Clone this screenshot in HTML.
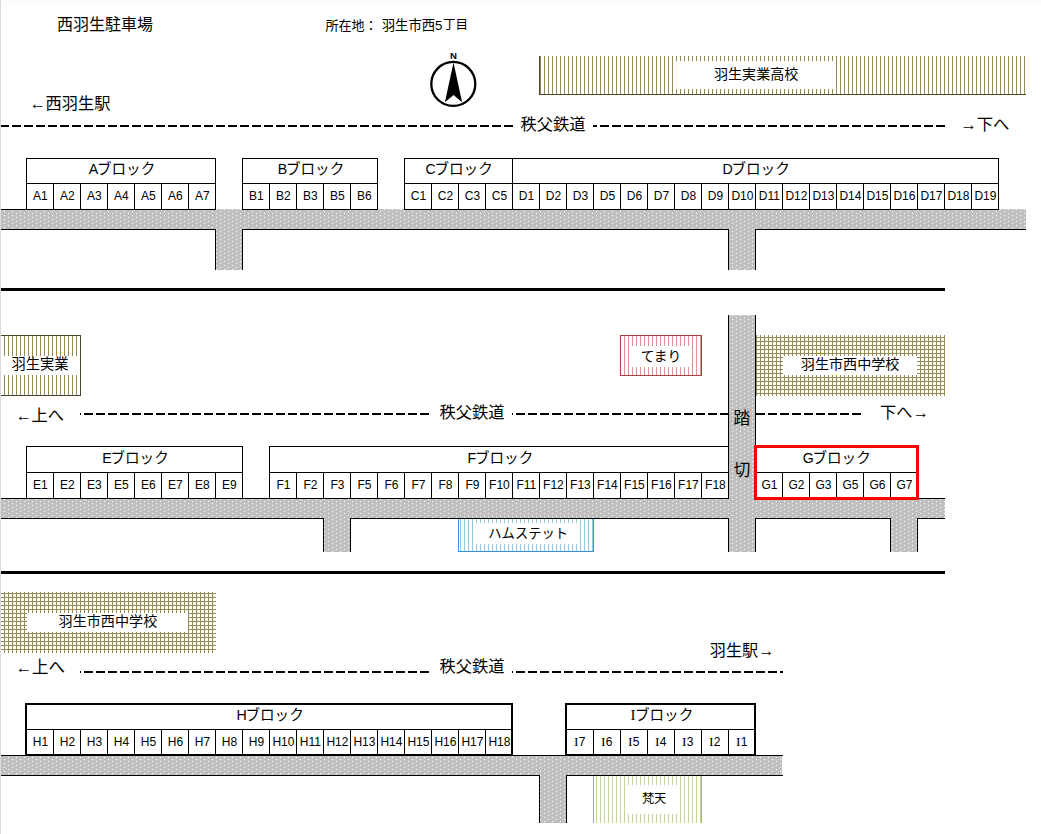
<!DOCTYPE html>
<html lang="ja">
<head>
<meta charset="utf-8">
<title>西羽生駐車場</title>
<style>
html,body{margin:0;padding:0;background:#fff;}
body{width:1041px;height:834px;overflow:hidden;font-family:"Liberation Sans","Noto Sans CJK JP",sans-serif;}
svg{display:block;}
svg text{font-family:"Liberation Sans","Noto Sans CJK JP",sans-serif;fill:#000;}
svg .tl text{fill:#000;}
svg text.mono,svg tspan.mono{font-family:"Liberation Mono",monospace;}
svg text.serif,svg tspan.serif{font-family:"Liberation Serif",serif;}
</style>
</head>
<body>
<svg width="1041" height="834" viewBox="0 0 1041 834">
<defs>
<pattern id="dots" patternUnits="userSpaceOnUse" x="0" y="0" width="8" height="4"><rect width="8" height="4" fill="#c0c0c0"/><rect x="0" y="1" width="1" height="1" fill="#fff"/><rect x="4" y="3" width="1" height="1" fill="#fff"/></pattern>
<pattern id="vs_olive" patternUnits="userSpaceOnUse" x="0" y="0" width="4" height="4"><rect width="1" height="4" fill="#948A54"/></pattern>
<pattern id="vs_red" patternUnits="userSpaceOnUse" x="0" y="0" width="4" height="4"><rect width="1" height="4" fill="#D99694"/></pattern>
<pattern id="vs_blue" patternUnits="userSpaceOnUse" x="0" y="0" width="4" height="4"><rect width="1" height="4" fill="#93CDDD"/></pattern>
<pattern id="vs_green" patternUnits="userSpaceOnUse" x="0" y="0" width="4" height="4"><rect width="1" height="4" fill="#C3D69B"/></pattern>
<pattern id="grid_olive" patternUnits="userSpaceOnUse" x="0" y="0" width="4" height="4"><rect width="1" height="4" fill="#948A54"/><rect y="1" width="4" height="1" fill="#948A54"/></pattern>
</defs>
<g shape-rendering="crispEdges">
<rect x="0" y="0" width="1041" height="834" fill="#fff"/>
<rect x="0" y="0" width="1" height="834" fill="#dadada"/>
<rect x="2" y="0" width="1039" height="1" fill="#fafafa"/>
<rect x="540" y="56" width="486" height="38" fill="url(#vs_olive)"/>
<rect x="539" y="56" width="1" height="39" fill="#4A452A"/>
<rect x="539" y="94" width="487" height="1" fill="#4A452A"/>
<rect x="673" y="61" width="163" height="28" fill="#fff"/>
<rect x="1" y="210" width="1025" height="19" fill="url(#dots)"/>
<rect x="216" y="209" width="26" height="1" fill="url(#dots)" opacity="0.85"/>
<rect x="378" y="209" width="26" height="1" fill="url(#dots)" opacity="0.85"/>
<rect x="999" y="209" width="27" height="1" fill="url(#dots)" opacity="0.85"/>
<rect x="216" y="229" width="26" height="41" fill="url(#dots)"/>
<rect x="729" y="229" width="26" height="41" fill="url(#dots)"/>
<rect x="1" y="229" width="215" height="1" fill="#000"/>
<rect x="242" y="229" width="487" height="1" fill="#000"/>
<rect x="755" y="229" width="271" height="1" fill="#000"/>
<rect x="215" y="229" width="1" height="41" fill="#000"/>
<rect x="242" y="229" width="1" height="41" fill="#000"/>
<rect x="728" y="229" width="1" height="41" fill="#000"/>
<rect x="755" y="229" width="1" height="41" fill="#000"/>
<rect x="1" y="209" width="26" height="1" fill="#000"/>
<rect x="26" y="158" width="190" height="52" fill="#fff"/>
<rect x="26" y="158" width="190" height="1" fill="#000"/>
<rect x="26" y="183" width="190" height="1" fill="#000"/>
<rect x="26" y="209" width="190" height="1" fill="#000"/>
<rect x="26" y="158" width="1" height="52" fill="#000"/>
<rect x="53" y="183" width="1" height="27" fill="#000"/>
<rect x="80" y="183" width="1" height="27" fill="#000"/>
<rect x="107" y="183" width="1" height="27" fill="#000"/>
<rect x="134" y="183" width="1" height="27" fill="#000"/>
<rect x="161" y="183" width="1" height="27" fill="#000"/>
<rect x="188" y="183" width="1" height="27" fill="#000"/>
<rect x="215" y="158" width="1" height="52" fill="#000"/>
<rect x="242" y="158" width="136" height="52" fill="#fff"/>
<rect x="242" y="158" width="136" height="1" fill="#000"/>
<rect x="242" y="183" width="136" height="1" fill="#000"/>
<rect x="242" y="209" width="136" height="1" fill="#000"/>
<rect x="242" y="158" width="1" height="52" fill="#000"/>
<rect x="269" y="183" width="1" height="27" fill="#000"/>
<rect x="296" y="183" width="1" height="27" fill="#000"/>
<rect x="323" y="183" width="1" height="27" fill="#000"/>
<rect x="350" y="183" width="1" height="27" fill="#000"/>
<rect x="377" y="158" width="1" height="52" fill="#000"/>
<rect x="404" y="158" width="109" height="52" fill="#fff"/>
<rect x="404" y="158" width="109" height="1" fill="#000"/>
<rect x="404" y="183" width="109" height="1" fill="#000"/>
<rect x="404" y="209" width="109" height="1" fill="#000"/>
<rect x="404" y="158" width="1" height="52" fill="#000"/>
<rect x="431" y="183" width="1" height="27" fill="#000"/>
<rect x="458" y="183" width="1" height="27" fill="#000"/>
<rect x="485" y="183" width="1" height="27" fill="#000"/>
<rect x="512" y="158" width="1" height="52" fill="#000"/>
<rect x="512" y="158" width="487" height="52" fill="#fff"/>
<rect x="512" y="158" width="487" height="1" fill="#000"/>
<rect x="512" y="183" width="487" height="1" fill="#000"/>
<rect x="512" y="209" width="487" height="1" fill="#000"/>
<rect x="512" y="158" width="1" height="52" fill="#000"/>
<rect x="539" y="183" width="1" height="27" fill="#000"/>
<rect x="566" y="183" width="1" height="27" fill="#000"/>
<rect x="593" y="183" width="1" height="27" fill="#000"/>
<rect x="620" y="183" width="1" height="27" fill="#000"/>
<rect x="647" y="183" width="1" height="27" fill="#000"/>
<rect x="674" y="183" width="1" height="27" fill="#000"/>
<rect x="701" y="183" width="1" height="27" fill="#000"/>
<rect x="728" y="183" width="1" height="27" fill="#000"/>
<rect x="755" y="183" width="1" height="27" fill="#000"/>
<rect x="782" y="183" width="1" height="27" fill="#000"/>
<rect x="809" y="183" width="1" height="27" fill="#000"/>
<rect x="836" y="183" width="1" height="27" fill="#000"/>
<rect x="863" y="183" width="1" height="27" fill="#000"/>
<rect x="890" y="183" width="1" height="27" fill="#000"/>
<rect x="917" y="183" width="1" height="27" fill="#000"/>
<rect x="944" y="183" width="1" height="27" fill="#000"/>
<rect x="971" y="183" width="1" height="27" fill="#000"/>
<rect x="998" y="158" width="1" height="52" fill="#000"/>
<rect x="1" y="288" width="944" height="3" fill="#000"/>
<g id="dash1">
<rect x="1" y="125" width="8" height="2" fill="#000"/>
<rect x="12" y="125" width="9" height="2" fill="#000"/>
<rect x="24" y="125" width="9" height="2" fill="#000"/>
<rect x="36" y="125" width="9" height="2" fill="#000"/>
<rect x="48" y="125" width="9" height="2" fill="#000"/>
<rect x="60" y="125" width="9" height="2" fill="#000"/>
<rect x="72" y="125" width="9" height="2" fill="#000"/>
<rect x="84" y="125" width="9" height="2" fill="#000"/>
<rect x="96" y="125" width="9" height="2" fill="#000"/>
<rect x="108" y="125" width="9" height="2" fill="#000"/>
<rect x="120" y="125" width="9" height="2" fill="#000"/>
<rect x="132" y="125" width="9" height="2" fill="#000"/>
<rect x="144" y="125" width="9" height="2" fill="#000"/>
<rect x="156" y="125" width="9" height="2" fill="#000"/>
<rect x="168" y="125" width="9" height="2" fill="#000"/>
<rect x="180" y="125" width="9" height="2" fill="#000"/>
<rect x="192" y="125" width="9" height="2" fill="#000"/>
<rect x="204" y="125" width="9" height="2" fill="#000"/>
<rect x="216" y="125" width="9" height="2" fill="#000"/>
<rect x="228" y="125" width="9" height="2" fill="#000"/>
<rect x="240" y="125" width="9" height="2" fill="#000"/>
<rect x="252" y="125" width="9" height="2" fill="#000"/>
<rect x="264" y="125" width="9" height="2" fill="#000"/>
<rect x="276" y="125" width="9" height="2" fill="#000"/>
<rect x="288" y="125" width="9" height="2" fill="#000"/>
<rect x="300" y="125" width="9" height="2" fill="#000"/>
<rect x="312" y="125" width="9" height="2" fill="#000"/>
<rect x="324" y="125" width="9" height="2" fill="#000"/>
<rect x="336" y="125" width="9" height="2" fill="#000"/>
<rect x="348" y="125" width="9" height="2" fill="#000"/>
<rect x="360" y="125" width="9" height="2" fill="#000"/>
<rect x="372" y="125" width="9" height="2" fill="#000"/>
<rect x="384" y="125" width="9" height="2" fill="#000"/>
<rect x="396" y="125" width="9" height="2" fill="#000"/>
<rect x="408" y="125" width="9" height="2" fill="#000"/>
<rect x="420" y="125" width="9" height="2" fill="#000"/>
<rect x="432" y="125" width="9" height="2" fill="#000"/>
<rect x="444" y="125" width="9" height="2" fill="#000"/>
<rect x="456" y="125" width="9" height="2" fill="#000"/>
<rect x="468" y="125" width="9" height="2" fill="#000"/>
<rect x="480" y="125" width="9" height="2" fill="#000"/>
<rect x="492" y="125" width="9" height="2" fill="#000"/>
<rect x="504" y="125" width="9" height="2" fill="#000"/>
<rect x="593" y="125" width="4" height="2" fill="#000"/>
<rect x="600" y="125" width="9" height="2" fill="#000"/>
<rect x="612" y="125" width="9" height="2" fill="#000"/>
<rect x="624" y="125" width="9" height="2" fill="#000"/>
<rect x="636" y="125" width="9" height="2" fill="#000"/>
<rect x="648" y="125" width="9" height="2" fill="#000"/>
<rect x="660" y="125" width="9" height="2" fill="#000"/>
<rect x="672" y="125" width="9" height="2" fill="#000"/>
<rect x="684" y="125" width="9" height="2" fill="#000"/>
<rect x="696" y="125" width="9" height="2" fill="#000"/>
<rect x="708" y="125" width="9" height="2" fill="#000"/>
<rect x="720" y="125" width="9" height="2" fill="#000"/>
<rect x="732" y="125" width="9" height="2" fill="#000"/>
<rect x="744" y="125" width="9" height="2" fill="#000"/>
<rect x="756" y="125" width="9" height="2" fill="#000"/>
<rect x="768" y="125" width="9" height="2" fill="#000"/>
<rect x="780" y="125" width="9" height="2" fill="#000"/>
<rect x="792" y="125" width="9" height="2" fill="#000"/>
<rect x="804" y="125" width="9" height="2" fill="#000"/>
<rect x="816" y="125" width="9" height="2" fill="#000"/>
<rect x="828" y="125" width="9" height="2" fill="#000"/>
<rect x="840" y="125" width="9" height="2" fill="#000"/>
<rect x="852" y="125" width="9" height="2" fill="#000"/>
<rect x="864" y="125" width="9" height="2" fill="#000"/>
<rect x="876" y="125" width="9" height="2" fill="#000"/>
<rect x="888" y="125" width="9" height="2" fill="#000"/>
<rect x="900" y="125" width="9" height="2" fill="#000"/>
<rect x="912" y="125" width="9" height="2" fill="#000"/>
<rect x="924" y="125" width="9" height="2" fill="#000"/>
<rect x="936" y="125" width="9" height="2" fill="#000"/>
</g>
<rect x="1" y="336" width="79" height="59" fill="url(#vs_olive)"/>
<rect x="1" y="335" width="80" height="1" fill="#4A452A"/>
<rect x="1" y="395" width="80" height="1" fill="#4A452A"/>
<rect x="80" y="335" width="1" height="61" fill="#4A452A"/>
<rect x="1" y="356" width="79" height="19" fill="#fff"/>
<rect x="621" y="336" width="80" height="39" fill="url(#vs_red)"/>
<rect x="620" y="335" width="82" height="1" fill="#A63F3D"/>
<rect x="620" y="375" width="82" height="1" fill="#A63F3D"/>
<rect x="620" y="335" width="1" height="41" fill="#A63F3D"/>
<rect x="701" y="335" width="1" height="41" fill="#A63F3D"/>
<rect x="629" y="346" width="63" height="21" fill="#fff"/>
<rect x="756" y="335" width="189" height="61" fill="url(#grid_olive)"/>
<rect x="783" y="356" width="134" height="19" fill="#fff"/>
<rect x="729" y="316" width="26" height="236" fill="url(#dots)"/>
<rect x="729" y="315" width="26" height="1" fill="url(#dots)" opacity="0.85"/>
<rect x="728" y="315" width="1" height="237" fill="#000"/>
<rect x="755" y="315" width="1" height="237" fill="#000"/>
<rect x="1" y="499" width="944" height="19" fill="url(#dots)"/>
<rect x="1" y="498" width="728" height="1" fill="#000"/>
<rect x="755" y="498" width="190" height="1" fill="#000"/>
<rect x="1" y="518" width="323" height="1" fill="#000"/>
<rect x="350" y="518" width="379" height="1" fill="#000"/>
<rect x="755" y="518" width="136" height="1" fill="#000"/>
<rect x="917" y="518" width="28" height="1" fill="#000"/>
<rect x="324" y="518" width="26" height="34" fill="url(#dots)"/>
<rect x="891" y="518" width="26" height="34" fill="url(#dots)"/>
<rect x="729" y="498" width="26" height="21" fill="url(#dots)"/>
<rect x="323" y="518" width="1" height="34" fill="#000"/>
<rect x="350" y="518" width="1" height="34" fill="#000"/>
<rect x="890" y="518" width="1" height="34" fill="#000"/>
<rect x="917" y="518" width="1" height="34" fill="#000"/>
<rect x="459" y="519" width="134" height="32" fill="url(#vs_blue)"/>
<rect x="458" y="519" width="1" height="33" fill="#3F8BD8"/>
<rect x="593" y="519" width="1" height="33" fill="#3F8BD8"/>
<rect x="458" y="551" width="136" height="1" fill="#3F8BD8"/>
<rect x="474" y="523" width="105" height="21" fill="#fff"/>
<rect x="26" y="446" width="217" height="53" fill="#fff"/>
<rect x="26" y="446" width="217" height="1" fill="#000"/>
<rect x="26" y="472" width="217" height="1" fill="#000"/>
<rect x="26" y="498" width="217" height="1" fill="#000"/>
<rect x="26" y="446" width="1" height="53" fill="#000"/>
<rect x="53" y="472" width="1" height="27" fill="#000"/>
<rect x="80" y="472" width="1" height="27" fill="#000"/>
<rect x="107" y="472" width="1" height="27" fill="#000"/>
<rect x="134" y="472" width="1" height="27" fill="#000"/>
<rect x="161" y="472" width="1" height="27" fill="#000"/>
<rect x="188" y="472" width="1" height="27" fill="#000"/>
<rect x="215" y="472" width="1" height="27" fill="#000"/>
<rect x="242" y="446" width="1" height="53" fill="#000"/>
<rect x="269" y="446" width="460" height="53" fill="#fff"/>
<rect x="269" y="446" width="460" height="1" fill="#000"/>
<rect x="269" y="472" width="460" height="1" fill="#000"/>
<rect x="269" y="498" width="460" height="1" fill="#000"/>
<rect x="269" y="446" width="1" height="53" fill="#000"/>
<rect x="296" y="472" width="1" height="27" fill="#000"/>
<rect x="323" y="472" width="1" height="27" fill="#000"/>
<rect x="350" y="472" width="1" height="27" fill="#000"/>
<rect x="377" y="472" width="1" height="27" fill="#000"/>
<rect x="404" y="472" width="1" height="27" fill="#000"/>
<rect x="431" y="472" width="1" height="27" fill="#000"/>
<rect x="458" y="472" width="1" height="27" fill="#000"/>
<rect x="485" y="472" width="1" height="27" fill="#000"/>
<rect x="512" y="472" width="1" height="27" fill="#000"/>
<rect x="539" y="472" width="1" height="27" fill="#000"/>
<rect x="566" y="472" width="1" height="27" fill="#000"/>
<rect x="593" y="472" width="1" height="27" fill="#000"/>
<rect x="620" y="472" width="1" height="27" fill="#000"/>
<rect x="647" y="472" width="1" height="27" fill="#000"/>
<rect x="674" y="472" width="1" height="27" fill="#000"/>
<rect x="701" y="472" width="1" height="27" fill="#000"/>
<rect x="728" y="446" width="1" height="53" fill="#000"/>
<rect x="755" y="446" width="163" height="53" fill="#fff"/>
<rect x="755" y="446" width="163" height="1" fill="#000"/>
<rect x="755" y="472" width="163" height="1" fill="#000"/>
<rect x="755" y="498" width="163" height="1" fill="#000"/>
<rect x="755" y="446" width="1" height="53" fill="#000"/>
<rect x="782" y="472" width="1" height="27" fill="#000"/>
<rect x="809" y="472" width="1" height="27" fill="#000"/>
<rect x="836" y="472" width="1" height="27" fill="#000"/>
<rect x="863" y="472" width="1" height="27" fill="#000"/>
<rect x="890" y="472" width="1" height="27" fill="#000"/>
<rect x="917" y="446" width="1" height="53" fill="#000"/>
<rect x="755.5" y="446.5" width="162" height="52" fill="none" stroke="#f00" stroke-width="3"/>
<rect x="80" y="413" width="1" height="2" fill="#000"/>
<rect x="84" y="413" width="9" height="2" fill="#000"/>
<rect x="96" y="413" width="9" height="2" fill="#000"/>
<rect x="108" y="413" width="9" height="2" fill="#000"/>
<rect x="120" y="413" width="9" height="2" fill="#000"/>
<rect x="132" y="413" width="9" height="2" fill="#000"/>
<rect x="144" y="413" width="9" height="2" fill="#000"/>
<rect x="156" y="413" width="9" height="2" fill="#000"/>
<rect x="168" y="413" width="9" height="2" fill="#000"/>
<rect x="180" y="413" width="9" height="2" fill="#000"/>
<rect x="192" y="413" width="9" height="2" fill="#000"/>
<rect x="204" y="413" width="9" height="2" fill="#000"/>
<rect x="216" y="413" width="9" height="2" fill="#000"/>
<rect x="228" y="413" width="9" height="2" fill="#000"/>
<rect x="240" y="413" width="9" height="2" fill="#000"/>
<rect x="252" y="413" width="9" height="2" fill="#000"/>
<rect x="264" y="413" width="9" height="2" fill="#000"/>
<rect x="276" y="413" width="9" height="2" fill="#000"/>
<rect x="288" y="413" width="9" height="2" fill="#000"/>
<rect x="300" y="413" width="9" height="2" fill="#000"/>
<rect x="312" y="413" width="9" height="2" fill="#000"/>
<rect x="324" y="413" width="9" height="2" fill="#000"/>
<rect x="336" y="413" width="9" height="2" fill="#000"/>
<rect x="348" y="413" width="9" height="2" fill="#000"/>
<rect x="360" y="413" width="9" height="2" fill="#000"/>
<rect x="372" y="413" width="9" height="2" fill="#000"/>
<rect x="384" y="413" width="9" height="2" fill="#000"/>
<rect x="396" y="413" width="9" height="2" fill="#000"/>
<rect x="408" y="413" width="9" height="2" fill="#000"/>
<rect x="420" y="413" width="9" height="2" fill="#000"/>
<rect x="512" y="413" width="1" height="2" fill="#000"/>
<rect x="516" y="413" width="9" height="2" fill="#000"/>
<rect x="528" y="413" width="9" height="2" fill="#000"/>
<rect x="540" y="413" width="9" height="2" fill="#000"/>
<rect x="552" y="413" width="9" height="2" fill="#000"/>
<rect x="564" y="413" width="9" height="2" fill="#000"/>
<rect x="576" y="413" width="9" height="2" fill="#000"/>
<rect x="588" y="413" width="9" height="2" fill="#000"/>
<rect x="600" y="413" width="9" height="2" fill="#000"/>
<rect x="612" y="413" width="9" height="2" fill="#000"/>
<rect x="624" y="413" width="9" height="2" fill="#000"/>
<rect x="636" y="413" width="9" height="2" fill="#000"/>
<rect x="648" y="413" width="9" height="2" fill="#000"/>
<rect x="660" y="413" width="9" height="2" fill="#000"/>
<rect x="672" y="413" width="9" height="2" fill="#000"/>
<rect x="684" y="413" width="9" height="2" fill="#000"/>
<rect x="696" y="413" width="9" height="2" fill="#000"/>
<rect x="708" y="413" width="9" height="2" fill="#000"/>
<rect x="720" y="413" width="9" height="2" fill="#000"/>
<rect x="756" y="413" width="9" height="2" fill="#000"/>
<rect x="768" y="413" width="9" height="2" fill="#000"/>
<rect x="780" y="413" width="9" height="2" fill="#000"/>
<rect x="792" y="413" width="9" height="2" fill="#000"/>
<rect x="804" y="413" width="9" height="2" fill="#000"/>
<rect x="816" y="413" width="9" height="2" fill="#000"/>
<rect x="828" y="413" width="9" height="2" fill="#000"/>
<rect x="840" y="413" width="9" height="2" fill="#000"/>
<rect x="852" y="413" width="9" height="2" fill="#000"/>
<rect x="1" y="571" width="944" height="3" fill="#000"/>
<rect x="1" y="592" width="215" height="61" fill="url(#grid_olive)"/>
<rect x="27" y="613" width="161" height="19" fill="#fff"/>
<rect x="80" y="671" width="1" height="2" fill="#000"/>
<rect x="84" y="671" width="9" height="2" fill="#000"/>
<rect x="96" y="671" width="9" height="2" fill="#000"/>
<rect x="108" y="671" width="9" height="2" fill="#000"/>
<rect x="120" y="671" width="9" height="2" fill="#000"/>
<rect x="132" y="671" width="9" height="2" fill="#000"/>
<rect x="144" y="671" width="9" height="2" fill="#000"/>
<rect x="156" y="671" width="9" height="2" fill="#000"/>
<rect x="168" y="671" width="9" height="2" fill="#000"/>
<rect x="180" y="671" width="9" height="2" fill="#000"/>
<rect x="192" y="671" width="9" height="2" fill="#000"/>
<rect x="204" y="671" width="9" height="2" fill="#000"/>
<rect x="216" y="671" width="9" height="2" fill="#000"/>
<rect x="228" y="671" width="9" height="2" fill="#000"/>
<rect x="240" y="671" width="9" height="2" fill="#000"/>
<rect x="252" y="671" width="9" height="2" fill="#000"/>
<rect x="264" y="671" width="9" height="2" fill="#000"/>
<rect x="276" y="671" width="9" height="2" fill="#000"/>
<rect x="288" y="671" width="9" height="2" fill="#000"/>
<rect x="300" y="671" width="9" height="2" fill="#000"/>
<rect x="312" y="671" width="9" height="2" fill="#000"/>
<rect x="324" y="671" width="9" height="2" fill="#000"/>
<rect x="336" y="671" width="9" height="2" fill="#000"/>
<rect x="348" y="671" width="9" height="2" fill="#000"/>
<rect x="360" y="671" width="9" height="2" fill="#000"/>
<rect x="372" y="671" width="9" height="2" fill="#000"/>
<rect x="384" y="671" width="9" height="2" fill="#000"/>
<rect x="396" y="671" width="9" height="2" fill="#000"/>
<rect x="408" y="671" width="9" height="2" fill="#000"/>
<rect x="420" y="671" width="9" height="2" fill="#000"/>
<rect x="512" y="671" width="1" height="2" fill="#000"/>
<rect x="516" y="671" width="9" height="2" fill="#000"/>
<rect x="528" y="671" width="9" height="2" fill="#000"/>
<rect x="540" y="671" width="9" height="2" fill="#000"/>
<rect x="552" y="671" width="9" height="2" fill="#000"/>
<rect x="564" y="671" width="9" height="2" fill="#000"/>
<rect x="576" y="671" width="9" height="2" fill="#000"/>
<rect x="588" y="671" width="9" height="2" fill="#000"/>
<rect x="600" y="671" width="9" height="2" fill="#000"/>
<rect x="612" y="671" width="9" height="2" fill="#000"/>
<rect x="624" y="671" width="9" height="2" fill="#000"/>
<rect x="636" y="671" width="9" height="2" fill="#000"/>
<rect x="648" y="671" width="9" height="2" fill="#000"/>
<rect x="660" y="671" width="9" height="2" fill="#000"/>
<rect x="672" y="671" width="9" height="2" fill="#000"/>
<rect x="684" y="671" width="9" height="2" fill="#000"/>
<rect x="696" y="671" width="9" height="2" fill="#000"/>
<rect x="708" y="671" width="9" height="2" fill="#000"/>
<rect x="720" y="671" width="9" height="2" fill="#000"/>
<rect x="732" y="671" width="9" height="2" fill="#000"/>
<rect x="744" y="671" width="9" height="2" fill="#000"/>
<rect x="756" y="671" width="9" height="2" fill="#000"/>
<rect x="768" y="671" width="9" height="2" fill="#000"/>
<rect x="780" y="671" width="3" height="2" fill="#000"/>
<rect x="1" y="756" width="781" height="19" fill="url(#dots)"/>
<rect x="1" y="755" width="782" height="1" fill="#000"/>
<rect x="1" y="775" width="539" height="1" fill="#000"/>
<rect x="566" y="775" width="217" height="1" fill="#000"/>
<rect x="540" y="775" width="26" height="48" fill="url(#dots)"/>
<rect x="539" y="775" width="1" height="48" fill="#000"/>
<rect x="566" y="775" width="1" height="48" fill="#000"/>
<rect x="594" y="776" width="107" height="47" fill="url(#vs_green)"/>
<rect x="593" y="776" width="1" height="47" fill="#9BBB59"/>
<rect x="701" y="776" width="1" height="47" fill="#9BBB59"/>
<rect x="626" y="785" width="53" height="29" fill="#fff"/>
<rect x="26" y="704" width="487" height="52" fill="#fff"/>
<rect x="26" y="704" width="487" height="1" fill="#000"/>
<rect x="26" y="729" width="487" height="1" fill="#000"/>
<rect x="26" y="755" width="487" height="1" fill="#000"/>
<rect x="26" y="704" width="1" height="52" fill="#000"/>
<rect x="53" y="729" width="1" height="27" fill="#000"/>
<rect x="80" y="729" width="1" height="27" fill="#000"/>
<rect x="107" y="729" width="1" height="27" fill="#000"/>
<rect x="134" y="729" width="1" height="27" fill="#000"/>
<rect x="161" y="729" width="1" height="27" fill="#000"/>
<rect x="188" y="729" width="1" height="27" fill="#000"/>
<rect x="215" y="729" width="1" height="27" fill="#000"/>
<rect x="242" y="729" width="1" height="27" fill="#000"/>
<rect x="269" y="729" width="1" height="27" fill="#000"/>
<rect x="296" y="729" width="1" height="27" fill="#000"/>
<rect x="323" y="729" width="1" height="27" fill="#000"/>
<rect x="350" y="729" width="1" height="27" fill="#000"/>
<rect x="377" y="729" width="1" height="27" fill="#000"/>
<rect x="404" y="729" width="1" height="27" fill="#000"/>
<rect x="431" y="729" width="1" height="27" fill="#000"/>
<rect x="458" y="729" width="1" height="27" fill="#000"/>
<rect x="485" y="729" width="1" height="27" fill="#000"/>
<rect x="512" y="704" width="1" height="52" fill="#000"/>
<rect x="25" y="703" width="488" height="2" fill="#000"/>
<rect x="25" y="754" width="488" height="2" fill="#000"/>
<rect x="25" y="703" width="2" height="53" fill="#000"/>
<rect x="511" y="703" width="2" height="53" fill="#000"/>
<rect x="566" y="704" width="190" height="52" fill="#fff"/>
<rect x="566" y="704" width="190" height="1" fill="#000"/>
<rect x="566" y="729" width="190" height="1" fill="#000"/>
<rect x="566" y="755" width="190" height="1" fill="#000"/>
<rect x="566" y="704" width="1" height="52" fill="#000"/>
<rect x="593" y="729" width="1" height="27" fill="#000"/>
<rect x="620" y="729" width="1" height="27" fill="#000"/>
<rect x="647" y="729" width="1" height="27" fill="#000"/>
<rect x="674" y="729" width="1" height="27" fill="#000"/>
<rect x="701" y="729" width="1" height="27" fill="#000"/>
<rect x="728" y="729" width="1" height="27" fill="#000"/>
<rect x="755" y="704" width="1" height="52" fill="#000"/>
<rect x="565" y="703" width="191" height="2" fill="#000"/>
<rect x="565" y="754" width="191" height="2" fill="#000"/>
<rect x="565" y="703" width="2" height="53" fill="#000"/>
<rect x="754" y="703" width="2" height="53" fill="#000"/>
</g>
<text x="40.4" y="200" font-size="12" text-anchor="middle">A1</text>
<text x="67.4" y="200" font-size="12" text-anchor="middle">A2</text>
<text x="94.4" y="200" font-size="12" text-anchor="middle">A3</text>
<text x="121.4" y="200" font-size="12" text-anchor="middle">A4</text>
<text x="148.4" y="200" font-size="12" text-anchor="middle">A5</text>
<text x="175.4" y="200" font-size="12" text-anchor="middle">A6</text>
<text x="202.4" y="200" font-size="12" text-anchor="middle">A7</text>
<text x="256.4" y="200" font-size="12" text-anchor="middle">B1</text>
<text x="283.4" y="200" font-size="12" text-anchor="middle">B2</text>
<text x="310.4" y="200" font-size="12" text-anchor="middle">B3</text>
<text x="337.4" y="200" font-size="12" text-anchor="middle">B5</text>
<text x="364.4" y="200" font-size="12" text-anchor="middle">B6</text>
<text x="418.4" y="200" font-size="12" text-anchor="middle">C1</text>
<text x="445.4" y="200" font-size="12" text-anchor="middle">C2</text>
<text x="472.4" y="200" font-size="12" text-anchor="middle">C3</text>
<text x="499.4" y="200" font-size="12" text-anchor="middle">C5</text>
<text x="526.4" y="200" font-size="12" text-anchor="middle">D1</text>
<text x="553.4" y="200" font-size="12" text-anchor="middle">D2</text>
<text x="580.4" y="200" font-size="12" text-anchor="middle">D3</text>
<text x="607.4" y="200" font-size="12" text-anchor="middle">D5</text>
<text x="634.4" y="200" font-size="12" text-anchor="middle">D6</text>
<text x="661.4" y="200" font-size="12" text-anchor="middle">D7</text>
<text x="688.4" y="200" font-size="12" text-anchor="middle">D8</text>
<text x="715.4" y="200" font-size="12" text-anchor="middle">D9</text>
<text x="742.4" y="200" font-size="12" text-anchor="middle">D10</text>
<text x="769.4" y="200" font-size="12" text-anchor="middle">D11</text>
<text x="796.4" y="200" font-size="12" text-anchor="middle">D12</text>
<text x="823.4" y="200" font-size="12" text-anchor="middle">D13</text>
<text x="850.4" y="200" font-size="12" text-anchor="middle">D14</text>
<text x="877.4" y="200" font-size="12" text-anchor="middle">D15</text>
<text x="904.4" y="200" font-size="12" text-anchor="middle">D16</text>
<text x="931.4" y="200" font-size="12" text-anchor="middle">D17</text>
<text x="958.4" y="200" font-size="12" text-anchor="middle">D18</text>
<text x="985.4" y="200" font-size="12" text-anchor="middle">D19</text>
<text x="98.2" y="174.15" font-size="14.2" text-anchor="end">A</text>
<text x="287.2" y="174.15" font-size="14.2" text-anchor="end">B</text>
<text x="435.7" y="174.15" font-size="14.2" text-anchor="end">C</text>
<text x="732.6999999999999" y="174.15" font-size="14.2" text-anchor="end">D</text>
<text x="40.4" y="489" font-size="12" text-anchor="middle">E1</text>
<text x="67.4" y="489" font-size="12" text-anchor="middle">E2</text>
<text x="94.4" y="489" font-size="12" text-anchor="middle">E3</text>
<text x="121.4" y="489" font-size="12" text-anchor="middle">E5</text>
<text x="148.4" y="489" font-size="12" text-anchor="middle">E6</text>
<text x="175.4" y="489" font-size="12" text-anchor="middle">E7</text>
<text x="202.4" y="489" font-size="12" text-anchor="middle">E8</text>
<text x="229.4" y="489" font-size="12" text-anchor="middle">E9</text>
<text x="283.4" y="489" font-size="12" text-anchor="middle">F1</text>
<text x="310.4" y="489" font-size="12" text-anchor="middle">F2</text>
<text x="337.4" y="489" font-size="12" text-anchor="middle">F3</text>
<text x="364.4" y="489" font-size="12" text-anchor="middle">F5</text>
<text x="391.4" y="489" font-size="12" text-anchor="middle">F6</text>
<text x="418.4" y="489" font-size="12" text-anchor="middle">F7</text>
<text x="445.4" y="489" font-size="12" text-anchor="middle">F8</text>
<text x="472.4" y="489" font-size="12" text-anchor="middle">F9</text>
<text x="499.4" y="489" font-size="12" text-anchor="middle">F10</text>
<text x="526.4" y="489" font-size="12" text-anchor="middle">F11</text>
<text x="553.4" y="489" font-size="12" text-anchor="middle">F12</text>
<text x="580.4" y="489" font-size="12" text-anchor="middle">F13</text>
<text x="607.4" y="489" font-size="12" text-anchor="middle">F14</text>
<text x="634.4" y="489" font-size="12" text-anchor="middle">F15</text>
<text x="661.4" y="489" font-size="12" text-anchor="middle">F16</text>
<text x="688.4" y="489" font-size="12" text-anchor="middle">F17</text>
<text x="715.4" y="489" font-size="12" text-anchor="middle">F18</text>
<text x="769.4" y="489" font-size="12" text-anchor="middle">G1</text>
<text x="796.4" y="489" font-size="12" text-anchor="middle">G2</text>
<text x="823.4" y="489" font-size="12" text-anchor="middle">G3</text>
<text x="850.4" y="489" font-size="12" text-anchor="middle">G5</text>
<text x="877.4" y="489" font-size="12" text-anchor="middle">G6</text>
<text x="904.4" y="489" font-size="12" text-anchor="middle">G7</text>
<text x="111.7" y="463.1" font-size="14.2" text-anchor="end">E</text>
<text x="476.2" y="463.1" font-size="14.2" text-anchor="end">F</text>
<text x="813.6999999999999" y="463.1" font-size="14.2" text-anchor="end">G</text>
<text x="40.4" y="746" font-size="12" text-anchor="middle">H1</text>
<text x="67.4" y="746" font-size="12" text-anchor="middle">H2</text>
<text x="94.4" y="746" font-size="12" text-anchor="middle">H3</text>
<text x="121.4" y="746" font-size="12" text-anchor="middle">H4</text>
<text x="148.4" y="746" font-size="12" text-anchor="middle">H5</text>
<text x="175.4" y="746" font-size="12" text-anchor="middle">H6</text>
<text x="202.4" y="746" font-size="12" text-anchor="middle">H7</text>
<text x="229.4" y="746" font-size="12" text-anchor="middle">H8</text>
<text x="256.4" y="746" font-size="12" text-anchor="middle">H9</text>
<text x="283.4" y="746" font-size="12" text-anchor="middle">H10</text>
<text x="310.4" y="746" font-size="12" text-anchor="middle">H11</text>
<text x="337.4" y="746" font-size="12" text-anchor="middle">H12</text>
<text x="364.4" y="746" font-size="12" text-anchor="middle">H13</text>
<text x="391.4" y="746" font-size="12" text-anchor="middle">H14</text>
<text x="418.4" y="746" font-size="12" text-anchor="middle">H15</text>
<text x="445.4" y="746" font-size="12" text-anchor="middle">H16</text>
<text x="472.4" y="746" font-size="12" text-anchor="middle">H17</text>
<text x="499.4" y="746" font-size="12" text-anchor="middle">H18</text>
<text x="579.8" y="746" font-size="12" text-anchor="middle"><tspan class="serif" font-size="13.5">I</tspan><tspan dx="0.3">7</tspan></text>
<text x="606.8" y="746" font-size="12" text-anchor="middle"><tspan class="serif" font-size="13.5">I</tspan><tspan dx="0.3">6</tspan></text>
<text x="633.8" y="746" font-size="12" text-anchor="middle"><tspan class="serif" font-size="13.5">I</tspan><tspan dx="0.3">5</tspan></text>
<text x="660.8" y="746" font-size="12" text-anchor="middle"><tspan class="serif" font-size="13.5">I</tspan><tspan dx="0.3">4</tspan></text>
<text x="687.8" y="746" font-size="12" text-anchor="middle"><tspan class="serif" font-size="13.5">I</tspan><tspan dx="0.3">3</tspan></text>
<text x="714.8" y="746" font-size="12" text-anchor="middle"><tspan class="serif" font-size="13.5">I</tspan><tspan dx="0.3">2</tspan></text>
<text x="741.8" y="746" font-size="12" text-anchor="middle"><tspan class="serif" font-size="13.5">I</tspan><tspan dx="0.3">1</tspan></text>
<text x="246.70000000000002" y="720.15" font-size="14.2" text-anchor="end">H</text>
<text x="633.0999999999999" y="720.15" font-size="15" text-anchor="middle" class="serif">I</text>
<circle cx="453.3" cy="83.9" r="22.0" fill="none" stroke="#000" stroke-width="2.3"/>
<path d="M453.5 62.6 L462.1 102.3 L453.5 95 L444.9 102.3 Z" fill="#000"/>
<text x="453.4" y="59.4" font-size="9.6" text-anchor="middle" font-weight="bold">N</text>
<text x="435.0" y="29.6" font-size="13.3" text-anchor="start">5</text>
<g class="tl">
<text x="96.9" y="174.1" font-size="14.6" text-anchor="start">ブロック</text>
<text x="285.9" y="174.1" font-size="14.6" text-anchor="start">ブロック</text>
<text x="434.4" y="174.1" font-size="14.6" text-anchor="start">ブロック</text>
<text x="731.4" y="174.1" font-size="14.6" text-anchor="start">ブロック</text>
<text x="110.4" y="463.1" font-size="14.6" text-anchor="start">ブロック</text>
<text x="474.9" y="463.1" font-size="14.6" text-anchor="start">ブロック</text>
<text x="812.4" y="463.1" font-size="14.6" text-anchor="start">ブロック</text>
<text x="245.4" y="720.1" font-size="14.6" text-anchor="start">ブロック</text>
<text x="634.9" y="720.1" font-size="14.6" text-anchor="start">ブロック</text>
<text x="57.1" y="30.1" font-size="16.0" text-anchor="start">西羽生駐車場</text>
<text x="325.5" y="29.5" font-size="13.0" text-anchor="start">所在地：</text>
<text x="381.7" y="29.5" font-size="13.4" text-anchor="start">羽生市西</text>
<text x="442.9" y="29.4" font-size="12.5" text-anchor="start">丁目</text>
<text x="29.4" y="108.9" font-size="16.2" text-anchor="start">←西羽生駅</text>
<text x="520.5" y="129.7" font-size="16.3" text-anchor="start">秩父鉄道</text>
<text x="960.3" y="129.7" font-size="16.4" text-anchor="start">→下へ</text>
<text x="713.9" y="79.4" font-size="14.1" text-anchor="start">羽生実業高校</text>
<text x="11.4" y="369.0" font-size="14.3" text-anchor="start">羽生実業</text>
<text x="640.7" y="360.6" font-size="13.7" text-anchor="start">てまり</text>
<text x="15.4" y="420.5" font-size="16.2" text-anchor="start">←上へ</text>
<text x="439.5" y="417.7" font-size="16.3" text-anchor="start">秩父鉄道</text>
<text x="733.6" y="423.7" font-size="16.8" text-anchor="start">踏</text>
<text x="800.8" y="369.1" font-size="14.1" text-anchor="start">羽生市西中学校</text>
<text x="880.1" y="417.7" font-size="16.2" text-anchor="start">下へ→</text>
<text x="733.8" y="475.7" font-size="16.6" text-anchor="start">切</text>
<text x="488.3" y="537.7" font-size="13.3" text-anchor="start">ハムステット</text>
<text x="58.6" y="626.2" font-size="14.1" text-anchor="start">羽生市西中学校</text>
<text x="15.4" y="672.6" font-size="16.5" text-anchor="start">←上へ</text>
<text x="439.5" y="672.1" font-size="16.3" text-anchor="start">秩父鉄道</text>
<text x="709.8" y="656.2" font-size="16.1" text-anchor="start">羽生駅→</text>
<text x="641.9" y="803.0" font-size="12.2" text-anchor="start">梵天</text>
</g>
</svg>
</body>
</html>
